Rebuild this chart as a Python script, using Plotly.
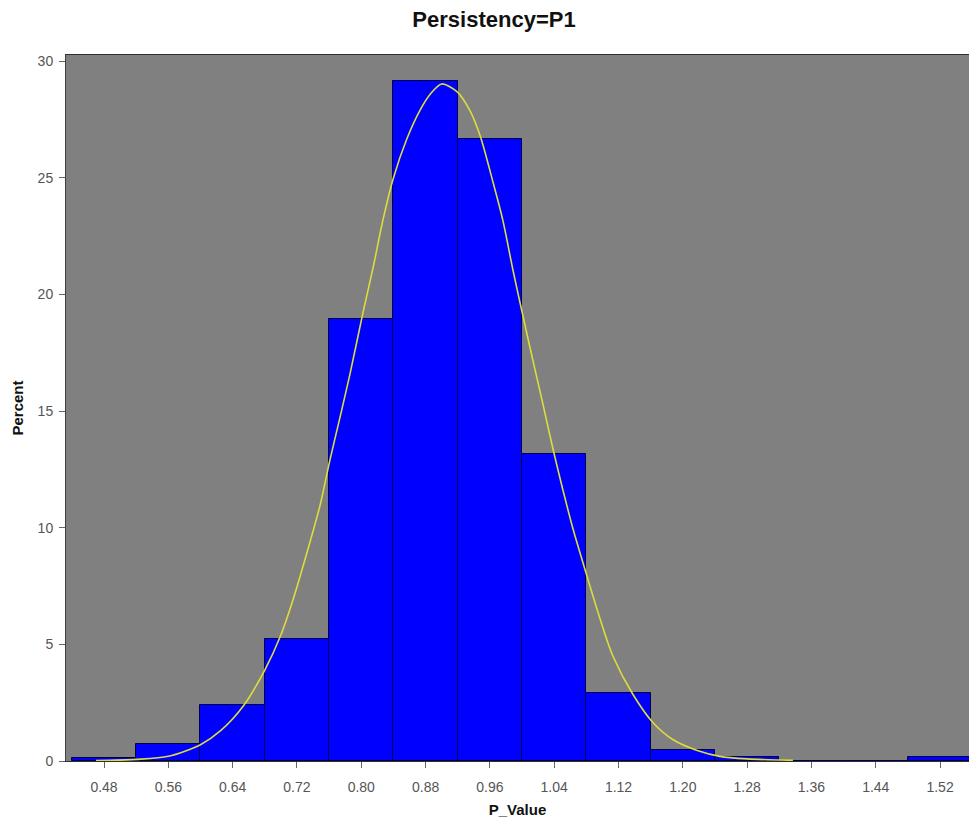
import plotly.graph_objects as go

# Histogram bins (midpoints) and percent heights
bin_mid = [0.48, 0.56, 0.64, 0.72, 0.80, 0.88, 0.96, 1.04, 1.12, 1.20, 1.28, 1.36, 1.44, 1.52]
percent = [0.15, 0.73, 2.38, 5.23, 18.95, 29.16, 26.67, 13.15, 2.93, 0.46, 0.17, 0.0, 0.0, 0.18]

# Fitted density curve
curve_x = [0.47, 0.52, 0.56, 0.60, 0.625, 0.653, 0.68, 0.70, 0.715, 0.733, 0.749, 0.761, 0.774,
           0.786, 0.802, 0.815, 0.827, 0.840, 0.857, 0.873, 0.886, 0.900, 0.919, 0.935, 0.948,
           0.964, 0.976, 0.989, 1.001, 1.014, 1.026, 1.039, 1.051, 1.063, 1.081, 1.097, 1.113,
           1.138, 1.163, 1.188, 1.218, 1.246, 1.280, 1.337]
curve_y = [0.02, 0.07, 0.2, 0.7, 1.3, 2.35, 3.9, 5.4, 6.9, 9.0, 11.0, 12.9, 14.8,
           16.6, 19.2, 21.2, 23.2, 25.0, 26.7, 27.9, 28.6, 29.03, 28.7, 27.9, 26.8,
           24.8, 23.2, 21.0, 19.1, 17.1, 15.3, 13.3, 11.6, 10.0, 7.9, 6.1, 4.5,
           2.85, 1.64, 0.91, 0.45, 0.2, 0.09, 0.03]

x_tick_vals = [0.48, 0.56, 0.64, 0.72, 0.80, 0.88, 0.96, 1.04, 1.12, 1.20, 1.28, 1.36, 1.44, 1.52]
x_tick_text = ["0.48", "0.56", "0.64", "0.72", "0.80", "0.88", "0.96", "1.04", "1.12", "1.20",
               "1.28", "1.36", "1.44", "1.52"]
y_tick_vals = [0, 5, 10, 15, 20, 25, 30]
bin_width = 0.08

fig = go.Figure()
fig.add_trace(go.Bar(
    x=bin_mid, y=percent, width=[bin_width] * len(bin_mid),
    marker=dict(color="#0000FF", line=dict(color="#00004a", width=1)),
    hoverinfo="x+y", showlegend=False,
))
fig.add_trace(go.Scatter(
    x=curve_x, y=curve_y, mode="lines",
    line=dict(color="#dcdc3c", width=1.6, shape="spline", smoothing=0.8),
    showlegend=False, hoverinfo="skip",
))

font_family = "Liberation Sans, Arial, sans-serif"
W, H = 969, 827
fig.update_layout(
    width=W, height=H,
    margin=dict(l=66, r=0, t=55, b=66),
    paper_bgcolor="white",
    plot_bgcolor="#808080",
    bargap=0,
    font=dict(family=font_family, size=14, color="#444444"),
    title=dict(text="<b>Persistency=P1</b>", x=494 / W, xref="container", xanchor="center",
               y=1 - 19 / H, yref="container", yanchor="middle",
               font=dict(family=font_family, size=22, color="#111111")),
    xaxis=dict(
        range=[0.4327, 1.556], tickmode="array", tickvals=x_tick_vals, ticktext=x_tick_text,
        ticks="outside", ticklen=6, tickcolor="#666666", showgrid=False, zeroline=False,
        showline=True, linecolor="#303030", linewidth=1, mirror=True,
        ticklabelstandoff=7,
        tickfont=dict(size=14, color="#555555"),
        title=dict(text="<b>P_Value</b>", font=dict(size=15, color="#111111"), standoff=10),
    ),
    yaxis=dict(
        range=[0, 30.27], tickmode="array", tickvals=y_tick_vals,
        ticks="outside", ticklen=6, tickcolor="#666666", showgrid=False, zeroline=False,
        showline=True, linecolor="#404040", linewidth=1, mirror=True,
        ticklabelstandoff=3,
        tickfont=dict(size=14, color="#555555"),
        title=dict(text="<b>Percent</b>", font=dict(size=15, color="#111111"), standoff=10),
    ),
)

fig.write_html("out.html", config={"displayModeBar": False},
               post_script="document.body.style.margin='0';document.body.style.overflow='hidden';")
